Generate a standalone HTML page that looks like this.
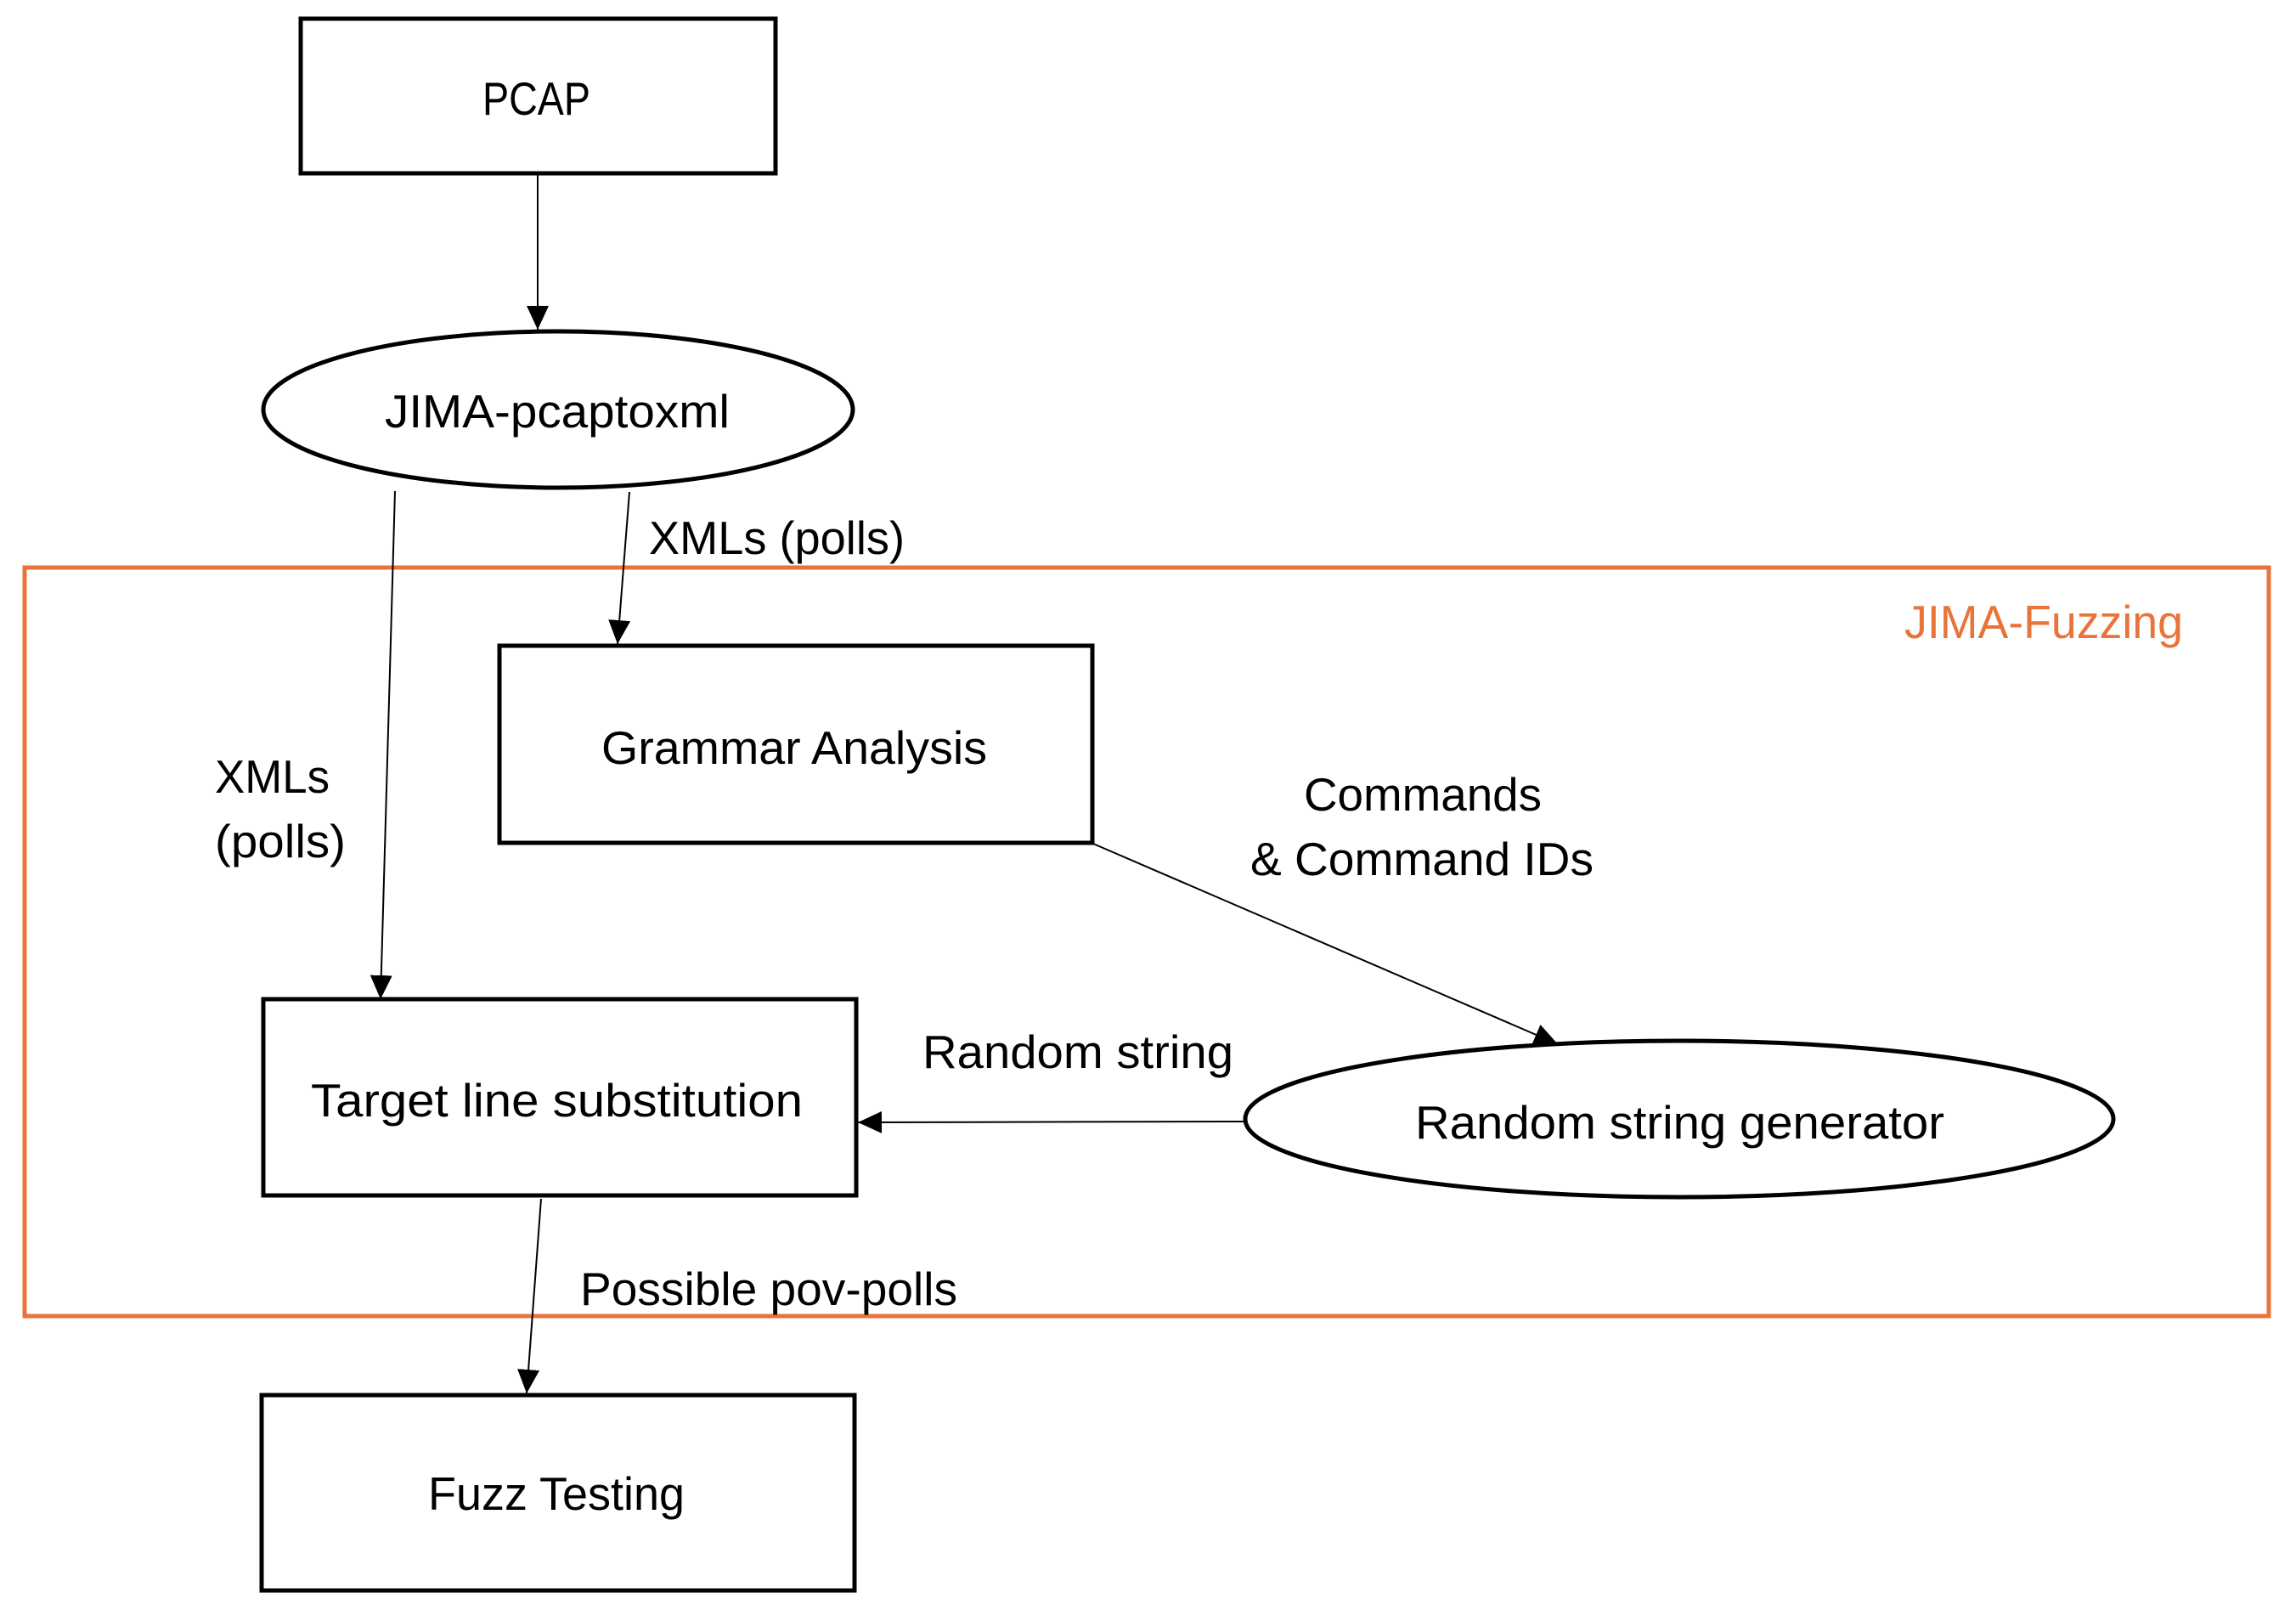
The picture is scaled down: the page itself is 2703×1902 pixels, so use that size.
<!DOCTYPE html>
<html><head><meta charset="utf-8"><style>html,body{margin:0;padding:0;background:#fff}svg{display:block}</style></head>
<body>
<svg width="2703" height="1902" viewBox="0 0 2703 1902" xmlns="http://www.w3.org/2000/svg" font-family="'Liberation Sans', sans-serif" font-size="55">
<defs>
<marker id="ah" markerUnits="userSpaceOnUse" markerWidth="30" markerHeight="26" refX="28" refY="13" orient="auto"><path d="M0,0 L28,13 L0,26 Z" fill="#000"/></marker>
</defs>
<rect width="2703" height="1902" fill="#fff"/>
<rect x="29" y="668" width="2642" height="881" fill="none" stroke="#E9743A" stroke-width="5"/>
<text x="2242" y="751" fill="#E9743A" textLength="328" lengthAdjust="spacingAndGlyphs">JIMA-Fuzzing</text>
<rect x="354" y="22" width="559" height="182" fill="none" stroke="#000" stroke-width="5"/>
<text x="568" y="135" textLength="127" lengthAdjust="spacingAndGlyphs">PCAP</text>
<ellipse cx="657" cy="482" rx="347" ry="92" fill="none" stroke="#000" stroke-width="5"/>
<text x="453" y="503" textLength="406" lengthAdjust="spacingAndGlyphs">JIMA-pcaptoxml</text>
<rect x="588" y="760" width="698" height="232" fill="none" stroke="#000" stroke-width="5"/>
<text x="708" y="899" textLength="454" lengthAdjust="spacingAndGlyphs">Grammar Analysis</text>
<rect x="310" y="1176" width="698" height="231" fill="none" stroke="#000" stroke-width="5"/>
<text x="366" y="1314" textLength="579" lengthAdjust="spacingAndGlyphs">Target line substitution</text>
<ellipse cx="1977" cy="1317" rx="511" ry="92" fill="none" stroke="#000" stroke-width="5"/>
<text x="1666" y="1340" textLength="623" lengthAdjust="spacingAndGlyphs">Random string generator</text>
<rect x="308" y="1642" width="698" height="230" fill="none" stroke="#000" stroke-width="5"/>
<text x="504" y="1777" textLength="302" lengthAdjust="spacingAndGlyphs">Fuzz Testing</text>
<g stroke="#000" stroke-width="2" fill="none" marker-end="url(#ah)">
<line x1="633" y1="206" x2="633" y2="388"/>
<line x1="741" y1="579" x2="727" y2="758"/>
<line x1="465" y1="578" x2="448" y2="1176"/>
<line x1="1287" y1="993" x2="1834" y2="1229"/>
<line x1="1466" y1="1320" x2="1010" y2="1321"/>
<line x1="637" y1="1411" x2="620" y2="1640"/>
</g>
<text x="764" y="652" textLength="301" lengthAdjust="spacingAndGlyphs">XMLs (polls)</text>
<text x="253" y="933" textLength="135" lengthAdjust="spacingAndGlyphs">XMLs</text>
<text x="253" y="1009" textLength="154" lengthAdjust="spacingAndGlyphs">(polls)</text>
<text x="1535" y="954" textLength="280" lengthAdjust="spacingAndGlyphs">Commands</text>
<text x="1472" y="1030" textLength="404" lengthAdjust="spacingAndGlyphs">&amp; Command IDs</text>
<text x="1086" y="1257" textLength="366" lengthAdjust="spacingAndGlyphs">Random string</text>
<text x="683" y="1536" textLength="444" lengthAdjust="spacingAndGlyphs">Possible pov-polls</text>
</svg>
</body></html>
